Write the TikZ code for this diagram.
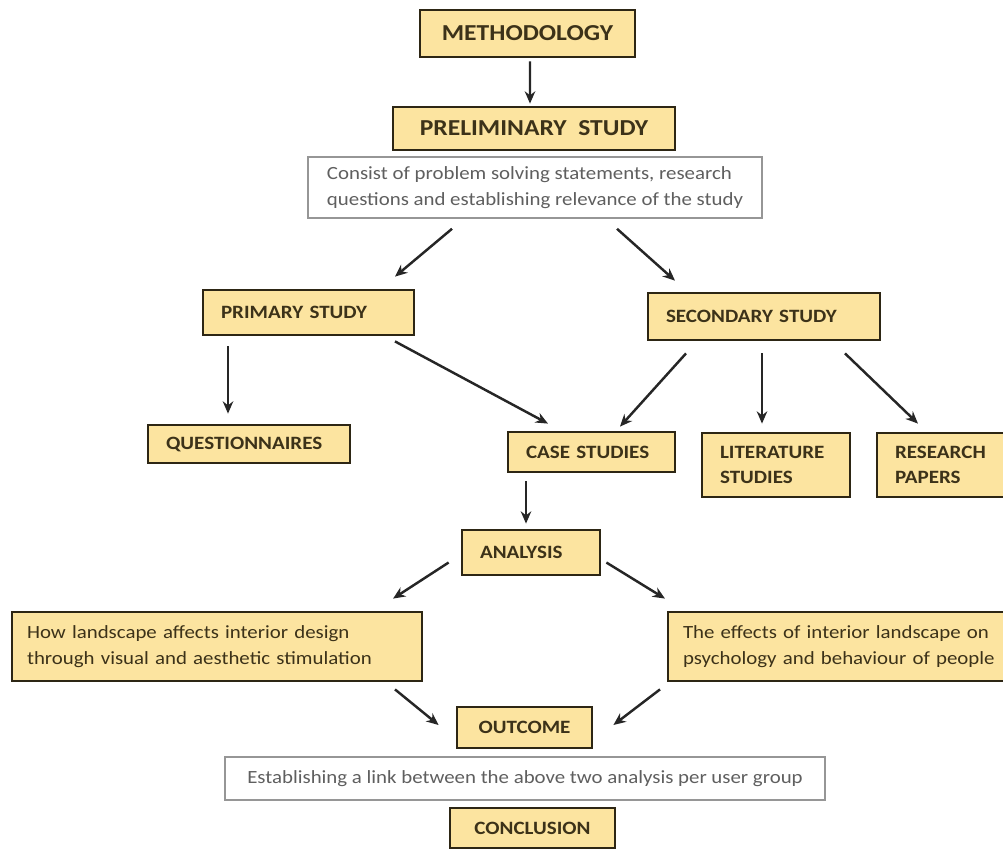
\documentclass[tikz,border=0pt]{standalone}
\usepackage{fontspec}
\setmainfont[FakeStretch=1.12]{Carlito}
\usepackage{tikz}
\usetikzlibrary{arrows.meta,calc}
\definecolor{boxfill}{RGB}{252,228,160}
\definecolor{boxline}{RGB}{45,38,20}
\definecolor{boxtext}{RGB}{60,50,25}
\definecolor{noteline}{RGB}{150,150,150}
\definecolor{notetext}{RGB}{95,95,95}
\newcommand{\titlefont}{\fontsize{13}{15}\selectfont\bfseries}
\newcommand{\labelfont}{\fontsize{10.7}{14.5}\selectfont\bfseries}
\newcommand{\bodyfont}{\fontsize{10.6}{14.5}\selectfont}
\tikzstyle{titleBox}=[shape = rectangle, draw = boxline, fill = boxfill, line width = 1.6pt, text = boxtext, font = \titlefont, inner sep = 0pt, align = center]
\tikzstyle{labelBox}=[shape = rectangle, draw = boxline, fill = boxfill, line width = 1.6pt, text = boxtext, font = \labelfont, inner xsep = 0.36cm, inner ysep = 0pt, align = left]
\tikzstyle{textBox}=[shape = rectangle, draw = boxline, fill = boxfill, line width = 1.6pt, text = boxtext, font = \bodyfont, inner xsep = 0.3cm, inner ysep = 0pt, align = left]
\tikzstyle{noteBox}=[shape = rectangle, draw = noteline, fill = white, line width = 0.9pt, text = notetext, font = \bodyfont, inner sep = 0pt, align = left]
\tikzstyle{arrowLine}=[-{Stealth[length=7pt, width=6pt]}, line width = 1.4pt, black!85]

\begin{document}
\begin{tikzpicture}[x = 0.02cm, y = -0.02cm]
\useasboundingbox (0,0) rectangle (1003,850);
\clip (0,0) rectangle (1003,850);
% Top
\node[titleBox, minimum width = 4.3cm, minimum height = 0.94cm] (meth) at (527.5,33.5) {METHODOLOGY};
\node[titleBox, minimum width = 5.64cm, minimum height = 0.86cm] (prelim) at (534,128.5) {PRELIMINARY\ \ STUDY};
\node[noteBox, minimum width = 9.08cm, minimum height = 1.22cm] (noteA) at (535,187.5) {Consist of problem solving statements, research\\questions and establishing relevance of the study};
% Studies
\node[labelBox, text width = 3.5cm, minimum height = 0.9cm] (primary) at (308.5,312.5) {PRIMARY STUDY};
\node[labelBox, text width = 3.92cm, minimum height = 0.94cm] (secondary) at (764,316.5) {SECONDARY STUDY};
\node[labelBox, text width = 3.32cm, minimum height = 0.76cm] (quest) at (249,444) {QUESTIONNAIRES};
\node[labelBox, text width = 2.62cm, minimum height = 0.8cm] (casest) at (591.5,452) {CASE STUDIES};
\node[labelBox, text width = 2.24cm, minimum height = 1.28cm] (litst) at (776,465) {LITERATURE\\STUDIES};
\node[labelBox, text width = 1.98cm, minimum height = 1.28cm] (respap) at (944.5,465) {RESEARCH\\PAPERS};
% Analysis
\node[labelBox, text width = 2.04cm, minimum height = 0.9cm] (analysis) at (531,552.5) {ANALYSIS};
\node[textBox, text width = 7.6cm, minimum height = 1.38cm] (effA) at (217,646.5) {How landscape affects interior design\\through visual and aesthetic stimulation};
\node[textBox, text width = 6.28cm, minimum height = 1.38cm] (effB) at (840,646.5) {The effects of interior landscape on\\psychology and behaviour of people};
% Bottom
\node[titleBox, font = \labelfont, minimum width = 2.7cm, minimum height = 0.82cm] (outcome) at (524.5,727.5) {OUTCOME};
\node[noteBox, minimum width = 12cm, minimum height = 0.86cm] (noteB) at (525,778.5) {Establishing a link between the above two analysis per user group};
\node[titleBox, font = \labelfont, minimum width = 3.3cm, minimum height = 0.8cm] (concl) at (532.5,828) {CONCLUSION};
% Arrows
\draw[arrowLine] ($(meth.south)+(2.5,3)$) -- ($(prelim.north)+(-4,-2)$);
\draw[arrowLine] ($(noteA.south)+(-83,10)$) -- ($(primary.north)+(86.5,-12)$);
\draw[arrowLine] ($(noteA.south)+(82,10)$) -- ($(secondary.north)+(-89,-11)$);
\draw[arrowLine] ($(primary.south)+(-80.5,10)$) -- ($(quest.north)+(-21,-10)$);
\draw[arrowLine] ($(primary.south)+(86.5,5)$) -- ($(casest.north)+(-43.5,-7)$);
\draw[arrowLine] ($(secondary.south)+(-78,12)$) -- ($(casest.north)+(28.5,-4)$);
\draw[arrowLine] ($(secondary.south)+(-2,12)$) -- ($(litst.north)+(-14,-8)$);
\draw[arrowLine] ($(secondary.south)+(81,12)$) -- ($(respap.north)+(-26.5,-8)$);
\draw[arrowLine] ($(casest.south)+(-65.5,8)$) -- ($(analysis.north)+(-5,-5)$);
\draw[arrowLine] ($(analysis.west)+(-12,10)$) -- ($(effA.north)+(176,-12)$);
\draw[arrowLine] ($(analysis.east)+(5,10)$) -- ($(effB.north)+(-175,-12)$);
\draw[arrowLine] ($(effA.south)+(178,7)$) -- ($(outcome.west)+(-17,-2.5)$);
\draw[arrowLine] ($(effB.south)+(-180,7)$) -- ($(outcome.east)+(20,-2.5)$);
\end{tikzpicture}
\end{document}
